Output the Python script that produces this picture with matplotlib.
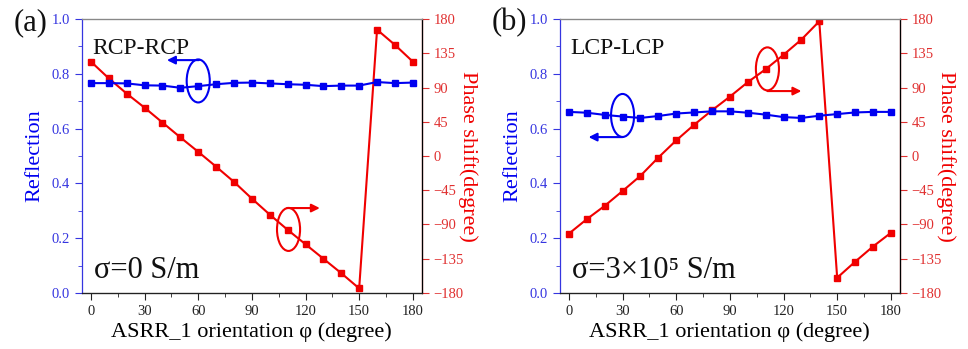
import matplotlib
matplotlib.use("Agg")
import matplotlib.pyplot as plt
from matplotlib.patches import Ellipse
from matplotlib.ticker import MultipleLocator

plt.rcParams["font.family"] = ["Liberation Serif", "DejaVu Serif"]

ANGLES = [0, 10, 20, 30, 40, 50, 60, 70, 80, 90, 100, 110, 120, 130, 140, 150, 160, 170, 180]

REFL_A = [0.766, 0.766, 0.765, 0.758, 0.757, 0.749, 0.755, 0.762, 0.767, 0.768,
          0.765, 0.762, 0.760, 0.755, 0.757, 0.757, 0.770, 0.766, 0.768]
PHASE_A = [124, 102, 82, 63.5, 44, 24.5, 5.5, -14, -34, -56,
           -77, -97, -116, -135, -154, -174, 166, 146, 124]

REFL_B = [0.661, 0.658, 0.650, 0.644, 0.639, 0.646, 0.655, 0.659, 0.663, 0.663,
          0.658, 0.651, 0.642, 0.639, 0.647, 0.653, 0.659, 0.661, 0.661]
PHASE_B = [-102, -83, -65.5, -46, -26, -2, 20.5, 41, 60, 78,
           97, 114, 133, 153, 177, -160, -139, -119, -101]

PANELS = [
    {"tag": "(a)", "mode": "RCP-RCP", "sigma": "σ=0 S/m", "refl": REFL_A, "phase": PHASE_A,
     "left": 0.0847},
    {"tag": "(b)", "mode": "LCP-LCP", "sigma": "σ=3×10⁵ S/m", "refl": REFL_B,
     "phase": PHASE_B, "left": 0.5785},
]

BLUE = "#0000F0"
RED = "#F00000"
BLUE_TXT = "#3535E0"
RED_TXT = "#E03030"

fig = plt.figure(figsize=(9.68, 3.49), dpi=100)
fig.patch.set_facecolor("white")


def style_axes(ax, ax2):
    ax.set_xlim(-5, 185)
    ax.set_ylim(0, 1.0)
    ax2.set_ylim(-180, 180)
    ax.xaxis.set_major_locator(MultipleLocator(30))
    ax.xaxis.set_minor_locator(MultipleLocator(15))
    ax.yaxis.set_major_locator(MultipleLocator(0.2))
    ax.yaxis.set_minor_locator(MultipleLocator(0.1))
    ax2.yaxis.set_major_locator(MultipleLocator(45))
    ax.yaxis.set_major_formatter(lambda v, p: f"{v:.1f}")

    ax.spines["left"].set_color(BLUE_TXT)
    ax.spines["top"].set_color("#888888")
    ax.spines["bottom"].set_color("#222222")
    ax2.spines["right"].set_color(RED_TXT)
    ax2.spines["top"].set_color("#888888")
    ax2.spines["left"].set_visible(False)
    for sp in ax.spines.values():
        sp.set_linewidth(0.9)
    ax2.spines["right"].set_linewidth(0.9)

    ax.tick_params(axis="x", which="both", direction="out", colors="#222222", labelsize=10.5,
                   labelcolor="#222222")
    ax.tick_params(axis="x", which="major", length=5)
    ax.tick_params(axis="x", which="minor", length=3)
    ax.tick_params(axis="y", which="both", direction="out", colors=BLUE_TXT, labelsize=10.5)
    ax.tick_params(axis="y", which="major", length=5)
    ax.tick_params(axis="y", which="minor", length=3)
    ax2.tick_params(axis="y", which="major", direction="out", colors=RED_TXT, labelsize=10.5,
                    length=5)

    ax.set_xlabel("ASRR_1 orientation φ (degree)", fontsize=16, labelpad=3)
    ax.set_ylabel("Reflection", fontsize=16, color=BLUE, labelpad=5)
    ax2.set_ylabel("Phase shift(degree)", fontsize=16, color=RED, rotation=270, labelpad=10)


for i, p in enumerate(PANELS):
    ax = fig.add_axes([p["left"], 0.1605, 0.351, 0.785])
    ax2 = ax.twinx()
    ax.set_zorder(ax2.get_zorder() + 1)
    ax.patch.set_visible(False)

    ax.plot(ANGLES, p["refl"], color=BLUE, marker="s", markersize=5, linewidth=1.5)
    ax2.plot(ANGLES, p["phase"], color=RED, marker="s", markersize=5, linewidth=1.5)
    style_axes(ax, ax2)

    ax.text(0.03, 0.93, p["mode"], transform=ax.transAxes, fontsize=17, va="top", ha="left",
            color="#111111")
    ax.text(0.035, 0.03, p["sigma"], transform=ax.transAxes, fontsize=22, va="bottom", ha="left",
            color="#111111")
    fig.text(p["left"] - 0.071, 0.935, p["tag"], fontsize=22, va="center", ha="left",
             color="#111111")

    if i == 0:
        ell_b, arr_b = (60, 0.774), ((60.4, 0.850), (42.5, 0.850))
        ell_r, arr_r = (110.5, 0.232), ((109.7, 0.310), (128, 0.310))
    else:
        ell_b, arr_b = (30, 0.648), ((30, 0.569), (11, 0.569))
        ell_r, arr_r = (111, 0.818), ((111, 0.737), (130, 0.737))

    for (c, arr, col) in [(ell_b, arr_b, BLUE), (ell_r, arr_r, RED)]:
        ax.add_patch(Ellipse(c, width=12.9, height=0.157, fill=False, edgecolor=col,
                             linewidth=1.5, zorder=5))
        ax.annotate("", xy=arr[1], xytext=arr[0],
                    arrowprops=dict(arrowstyle="-|>", color=col, lw=1.5, mutation_scale=12,
                                    shrinkA=0, shrinkB=0), zorder=5)

fig.savefig("out.png", dpi=100)
